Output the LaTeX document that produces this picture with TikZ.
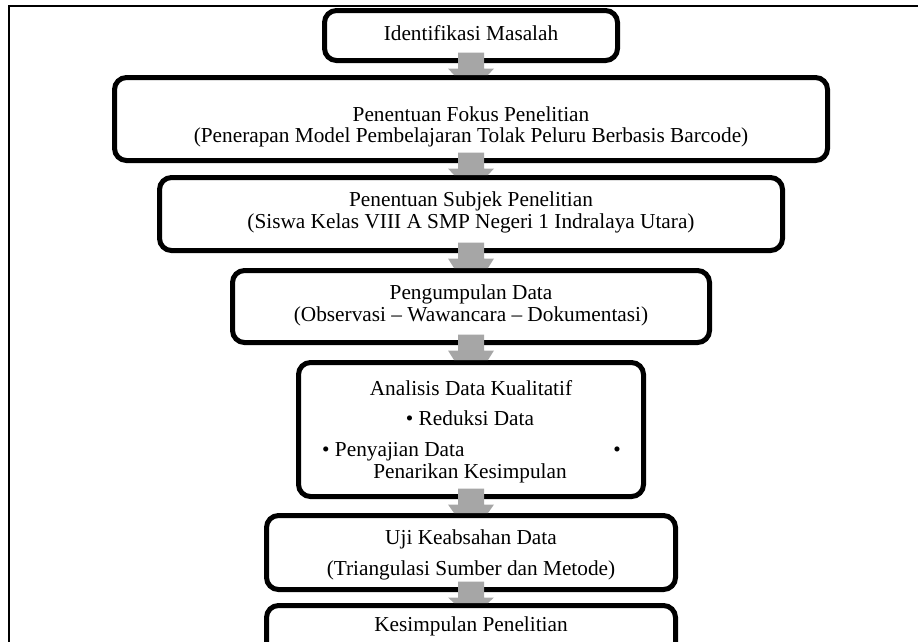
\documentclass[tikz,border=0pt]{standalone}
\usepackage{fontspec}
\setmainfont{Liberation Serif}
\usetikzlibrary{calc}
\definecolor{arrowgray}{HTML}{A6A6A6}
\begin{document}
\begin{tikzpicture}[x=1pt,y=-1pt,
  box/.style={draw=black, line width=5pt, rounded corners=12pt, fill=white, inner sep=0pt, outer sep=0pt},
  lbl/.style={font=\fontsize{21.3}{22}\selectfont, inner sep=0pt, anchor=base},
  flow/.style={fill=arrowgray}]
\useasboundingbox (0,0) rectangle (918,641);
\clip (0,0) rectangle (918,641);
\draw[line width=2pt] (9,6) rectangle (940,690);

% boxes
\node[box, minimum width=293pt, minimum height=50pt] (b1) at (471,35.5) {};
\node[box, minimum width=713pt, minimum height=83pt] (b2) at (471,119) {};
\node[box, minimum width=623pt, minimum height=73pt] (b3) at (471,214) {};
\node[box, minimum width=477pt, minimum height=72pt] (b4) at (471,306.5) {};
\node[box, minimum width=345pt, minimum height=134pt] (b5) at (471,429.5) {};
\node[box, minimum width=409pt, minimum height=74pt] (b6) at (471,552.5) {};
\node[box, minimum width=409pt, minimum height=50pt] (b7) at (471,630.5) {};

% texts
\node[lbl] (t1) at (471,40) {Identifikasi Masalah};
\node[lbl] (t2a) at (471,121.5) {Penentuan Fokus Penelitian};
\node[lbl] (t2b) at (471,142) {(Penerapan Model Pembelajaran Tolak Peluru Berbasis Barcode)};
\node[lbl] (t3a) at (471,206.5) {Penentuan Subjek Penelitian};
\node[lbl] (t3b) at (471,228.5) {(Siswa Kelas VIII A SMP Negeri 1 Indralaya Utara)};
\node[lbl] (t4a) at (471,299.5) {Pengumpulan Data};
\node[lbl] (t4b) at (471,321) {(Observasi – Wawancara – Dokumentasi)};
\node[lbl] (t5a) at (471,395) {Analisis Data Kualitatif};
\node[lbl] (t5b) at (470,425) {• Reduksi Data};
\node[lbl, anchor=base west] (t5c) at (322,456) {• Penyajian Data};
\node[lbl] (t5d) at (617,456) {•};
\node[lbl] (t5e) at (470,478.5) {Penarikan Kesimpulan};
\node[lbl] (t6a) at (471,544) {Uji Keabsahan Data};
\node[lbl] (t6b) at (471,575.5) {(Triangulasi Sumber dan Metode)};
\node[lbl] (t7) at (471,631) {Kesimpulan Penelitian};

% arrows
\foreach \a/\b in {b1/b2,b2/b3,b3/b4,b4/b5,b5/b6,b6/b7}{
  \fill[flow] ($(\a.south)+(-13,-8)$) -- ($(\a.south)+(13,-8)$) -- ($(\a.south)+(13,8)$)
    -- ($(\a.south)+(23,8)$) -- ($(\b.north)+(17,-2.5)$) -- ($(\b.north)+(-17,-2.5)$)
    -- ($(\a.south)+(-23,8)$) -- ($(\a.south)+(-13,8)$) -- cycle;
}
\end{tikzpicture}
\end{document}
